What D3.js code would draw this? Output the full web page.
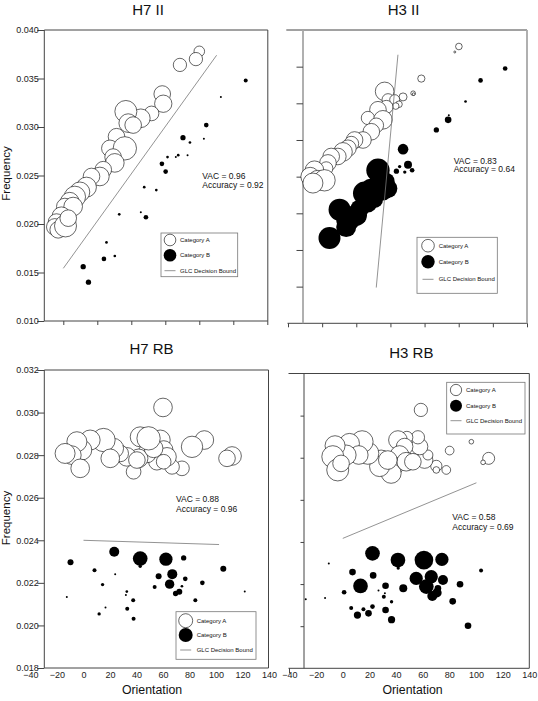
<!DOCTYPE html>
<html><head><meta charset="utf-8">
<script src="https://cdn.jsdelivr.net/npm/d3@7"></script>
<style>
html,body{margin:0;padding:0;background:#fff;}
svg{display:block;font-family:"Liberation Sans",Arial,Helvetica,sans-serif;}
</style></head><body>
<svg id="chart" width="538" height="701"></svg>
<script>
// ---- DATA: [orientation, frequency, size] ----
const h7iiA = [[80.0,0.0378,28],[78.0,0.0370,44],[68.6,0.0364,44],[58.2,0.0334,69],[58.8,0.0324,75],[51.9,0.0314,54],[45.6,0.0309,87],[36.8,0.0316,121],[38.2,0.0304,87],[41.1,0.0302,69],[31.3,0.0290,69],[27.4,0.0278,69],[36.2,0.0278,136],[29.3,0.0269,69],[30.3,0.0263,87],[23.5,0.0256,69],[21.5,0.0249,87],[16.6,0.0249,69],[13.6,0.0238,100],[9.7,0.0233,100],[6.8,0.0228,114],[3.8,0.0223,87],[0.9,0.0218,69],[5.8,0.0218,87],[-1.1,0.0208,87],[-4.0,0.0202,69],[-5.0,0.0197,69],[-3.0,0.0194,69],[1.3,0.0198,121],[2.9,0.0206,69]];
const h7iiB = [[107.3,0.0348,4],[92.7,0.0331,1],[84.1,0.0302,5.4],[70.4,0.0289,7],[74.5,0.0284,1.8],[82.7,0.0288,1],[61.3,0.0269,1.8],[66.2,0.0269,1],[67.6,0.0271,1.8],[73.1,0.0271,1],[58.0,0.0262,5.4],[60.2,0.0254,5.4],[47.6,0.0238,1.8],[54.7,0.0235,1.8],[32.9,0.0210,1.8],[45.6,0.0212,1],[48.6,0.0207,5.4],[25.4,0.0181,1.8],[23.9,0.0164,5.4],[30.3,0.0167,1.8],[11.7,0.0156,7],[14.8,0.0140,7]];
const h7iiBound = [[0,0.01543],[90.2,0.0374]];
const h7iiStats = ["VAC = 0.96","Accuracy = 0.92"];

const h3iiA = [[80.1,0.0382,11],[77.7,0.0376,1],[58.1,0.0347,13],[53.3,0.0331,5.4],[53.6,0.0330,1.8],[36.6,0.0333,87],[47.4,0.0327,16],[38.6,0.0324,36],[42.5,0.0324,25],[45.0,0.0319,11],[43.1,0.0317,11],[37.6,0.0316,44],[32.7,0.0313,69],[26.8,0.0304,44],[35.6,0.0302,87],[31.7,0.0296,54],[28.8,0.0289,69],[23.9,0.0280,69],[19.0,0.0280,69],[17.1,0.0276,54],[15.1,0.0271,69],[12.2,0.0267,87],[9.2,0.0262,69],[5.3,0.0262,69],[3.4,0.0255,69],[2.4,0.0249,44],[-4.5,0.0247,87],[-7.0,0.0240,87],[-2.5,0.0236,100],[1.4,0.0236,114],[-5.4,0.0233,100]];
const h3iiB = [[107.2,0.0358,5.4],[92.8,0.0345,5.4],[84.0,0.0322,1.8],[73.8,0.0302,11],[74.2,0.0307,1],[66.9,0.0291,7],[47.4,0.0270,28],[50.3,0.0253,16],[52.7,0.0247,5.4],[48.4,0.0245,2.8],[45.4,0.0251,2.8],[43.5,0.0246,7],[32.7,0.0247,136],[37.6,0.0235,69],[38.6,0.0227,87],[35.6,0.0225,100],[28.8,0.0225,136],[24.9,0.0222,136],[30.8,0.0215,69],[26.8,0.0211,87],[22.0,0.0205,87],[20.0,0.0198,114],[15.1,0.0193,136],[10.2,0.0204,121],[14.1,0.0185,100],[4.3,0.0173,121]];
const h3iiBound = [[44.4,0.0373],[31.7,0.0119]];
const h3iiStats = ["VAC = 0.83","Accuracy = 0.64"];

const h7rbA = [[60.0,0.03024,87],[91.2,0.02871,87],[112.1,0.02796,87],[108.3,0.02785,69],[81.9,0.02839,114],[74.3,0.02738,54],[66.8,0.02745,54],[37.8,0.02722,54],[42.8,0.02886,100],[57.9,0.02871,100],[60.5,0.02824,87],[63.0,0.02792,87],[55.4,0.02769,69],[47.9,0.02808,87],[41.6,0.02785,87],[32.7,0.02792,87],[27.7,0.02808,69],[22.7,0.02832,100],[15.1,0.02871,136],[5.0,0.02871,100],[-1.3,0.02824,100],[-5.0,0.02863,100],[-8.8,0.02800,87],[-13.9,0.02808,100],[-2.5,0.02738,87],[60.5,0.02769,54],[52.9,0.02832,87],[40.3,0.02777,69],[20.2,0.02785,87],[49.1,0.02879,136]];
const h7rbB = [[23.2,0.02346,25],[42.8,0.02314,54],[42.8,0.02278,2.8],[62.2,0.02311,44],[75.6,0.02317,7],[-9.8,0.02297,9],[8.3,0.02259,4],[23.9,0.02241,1],[67.0,0.02241,25],[56.7,0.02231,9],[65.0,0.02194,22],[76.8,0.02219,5.4],[89.7,0.02200,5.4],[105.5,0.02266,9],[53.7,0.02181,4],[74.3,0.02184,1.8],[14.4,0.02192,2.8],[32.7,0.02159,1.8],[32.0,0.02143,1],[37.5,0.02118,4],[16.6,0.02084,1],[33.0,0.02078,4],[11.8,0.02054,2.8],[37.8,0.02031,4],[69.5,0.02150,7],[72.3,0.02158,9],[84.4,0.02118,4],[-12.6,0.02134,1],[121.7,0.02159,1]];
const h7rbBound = [[0,0.0240],[102.3,0.0238]];
const h7rbStats = ["VAC = 0.88","Accuracy = 0.96"];

const h3rbA = [[58.6,0.03027,44],[96.5,0.02876,5.4],[80.2,0.02834,19],[109.5,0.02797,36],[105.3,0.02778,5.4],[70.2,0.02761,32],[77.7,0.02742,19],[70.2,0.02742,11],[61.4,0.02789,69],[63.9,0.02813,25],[57.6,0.02853,69],[56.4,0.02897,44],[48.1,0.02897,36],[41.4,0.02884,87],[46.4,0.02853,69],[42.6,0.02813,87],[37.6,0.02758,100],[36.3,0.02726,100],[47.6,0.02781,87],[52.6,0.02781,69],[28.8,0.02789,100],[27.6,0.02758,100],[18.8,0.02821,121],[14.5,0.02876,121],[5.0,0.02868,100],[12.0,0.02813,87],[2.5,0.02813,100],[-5.8,0.02857,100],[-7.5,0.02805,121],[-3.8,0.02742,121],[-1.3,0.02773,69],[33.8,0.02789,87]];
const h3rbB = [[22.3,0.02346,54],[41.4,0.02314,54],[41.6,0.02276,2.8],[60.9,0.02314,87],[74.4,0.02317,44],[-10.5,0.02298,1],[7.3,0.02257,11],[22.8,0.02241,11],[103.8,0.02265,4],[55.1,0.02227,44],[66.4,0.02235,44],[75.2,0.02219,25],[13.3,0.02191,54],[32.1,0.02192,11],[45.4,0.0218,16],[62.7,0.02188,54],[71.4,0.0218,11],[88.0,0.02199,11],[26.8,0.02169,1],[1.0,0.02161,5.4],[31.6,0.02156,1],[30.8,0.0214,4],[67.2,0.02143,25],[70.7,0.02159,22],[82.5,0.02118,11],[36.6,0.02116,2.8],[-27.8,0.02128,1],[-13.3,0.02134,1],[6.3,0.02086,4],[15.5,0.0208,4],[22.3,0.02093,5.4],[11.0,0.02053,13],[19.3,0.02061,11],[32.1,0.02077,11],[36.6,0.02031,13],[94.0,0.02002,11]];
const h3rbBound = [[0,0.02417],[100.3,0.02681]];
const h3rbStats = ["VAC = 0.58","Accuracy = 0.69"];

const freqTicksH7II = [0.010,0.015,0.020,0.025,0.030,0.035,0.040];
const freqTicksH3II = [0.012,0.016,0.020,0.024,0.028,0.032,0.036];
const freqTicksRB = [0.018,0.020,0.022,0.024,0.026,0.028,0.030,0.032];
const orientTicksII = [0,20,40,60,80,100,120];
const orientTicksH3II = [-20,0,20,40,60,80,100,120];
const orientTicksRB = [-40,-20,0,20,40,60,80,100,120,140];
const legendLabels = ["Category A","Category B","GLC Decision Bound"];

// ---- DRAWING ----
const svg = d3.select("#chart");
const rScale = d3.scaleSqrt().domain([0,144]).range([0,12]);
const fmt = d3.format(".3f");
const axisColor = "#444";

function hline(g,x0,x1,y,c,w){g.append("line").attr("x1",x0).attr("x2",x1).attr("y1",y).attr("y2",y).attr("stroke",c||axisColor).attr("stroke-width",w||1);}
function vline(g,x,y0,y1,c,w){g.append("line").attr("x1",x).attr("x2",x).attr("y1",y0).attr("y2",y1).attr("stroke",c||axisColor).attr("stroke-width",w||1);}

function drawPanel(o){
  const g = svg.append("g");
  const x = d3.scaleLinear().domain(o.xDomain).range(o.xRange);
  const y = d3.scaleLinear().domain(o.yDomain).range(o.yRange);
  const yb = o.yRange[0], yt = o.yRange[1];
  const right = o.right;
  // frame
  hline(g,o.topX0,right,yt);
  hline(g,o.botX0,right,yb);
  vline(g,o.left,yt,yb,o.leftColor,o.leftWidth);
  vline(g,right,yt,yb,o.rightColor,o.rightWidth);

  // y axis
  const ya = d3.axisLeft(y).tickValues(o.yTicks).tickSize(o.yTickSize)
     .tickPadding(o.yLabels ? -1.5 : 2).tickFormat(o.yLabels ? fmt : "");
  const yg = g.append("g").attr("transform",`translate(${o.left},0)`).call(ya);
  yg.select(".domain").remove();
  yg.selectAll("line").attr("stroke",axisColor);
  yg.selectAll("text").attr("font-size",9).attr("fill","#222")
     .attr("font-family","'Liberation Sans',Arial,sans-serif");

  // x axis
  const xa = d3.axisBottom(x).tickValues(o.xTicks).tickSize(o.xTickSize)
     .tickPadding(o.xLabels ? 3.8 : 2).tickFormat(o.xLabels ? d3.format("d") : "");
  const xg = g.append("g").attr("transform",`translate(0,${yb})`).call(xa);
  xg.select(".domain").remove();
  xg.selectAll("line").attr("stroke",axisColor);
  xg.selectAll("text").attr("font-size",9).attr("fill","#222")
     .attr("font-family","'Liberation Sans',Arial,sans-serif");
  if (o.extraTick !== undefined) vline(g,x(o.extraTick),yb,yb+5);

  // points
  g.append("g").selectAll("circle").data(o.A).join("circle")
    .attr("cx",d=>x(d[0])).attr("cy",d=>y(d[1])).attr("r",d=>rScale(d[2]))
    .attr("fill","#fff").attr("stroke","#000").attr("stroke-width",0.6);
  g.append("g").selectAll("circle").data(o.B).join("circle")
    .attr("cx",d=>x(d[0])).attr("cy",d=>y(d[1])).attr("r",d=>rScale(d[2]))
    .attr("fill","#000");
  // decision bound
  g.append("path").datum(o.bound)
    .attr("d",d3.line().x(d=>x(d[0])).y(d=>y(d[1])))
    .attr("stroke","#777").attr("stroke-width",0.8).attr("fill","none");

  // stats
  o.stats.forEach((s,i)=>{
    g.append("text").attr("x",o.statsX).attr("y",o.statsY + i*o.statsDy)
      .attr("font-size",8.5).attr("fill","#111").text(s);
  });

  // legend
  const L = o.legend;
  g.append("rect").attr("x",L.x).attr("y",L.y).attr("width",L.w).attr("height",L.h)
    .attr("fill","#fff").attr("stroke","#777").attr("stroke-width",0.8);
  g.append("circle").attr("cx",L.cx).attr("cy",L.rows[0]).attr("r",rScale(L.sizes[0]))
    .attr("fill","#fff").attr("stroke","#000").attr("stroke-width",0.6);
  g.append("circle").attr("cx",L.cx).attr("cy",L.rows[1]).attr("r",rScale(L.sizes[1]))
    .attr("fill","#000");
  g.append("line").attr("x1",L.cx-5.5).attr("x2",L.cx+5.5).attr("y1",L.rows[2]).attr("y2",L.rows[2])
    .attr("stroke","#777").attr("stroke-width",0.8);
  legendLabels.forEach((t,i)=>{
    g.append("text").attr("x",L.tx).attr("y",L.rows[i]+2.1).attr("font-size",6)
      .attr("fill","#111").text(t);
  });

  // title
  g.append("text").attr("x",o.titleX).attr("y",o.titleY).attr("text-anchor","middle")
    .attr("font-size",15).attr("fill","#111").text(o.title);
  if (o.yLabel) {
    g.append("text").attr("transform",`translate(9.5,${o.yLabel})rotate(-90)`)
      .attr("text-anchor","middle").attr("font-size",11.5).attr("fill","#111").text("Frequency");
  }
  if (o.xLabel) {
    g.append("text").attr("x",o.xLabel).attr("y",694).attr("text-anchor","middle")
      .attr("font-size",12.3).attr("fill","#111").text("Orientation");
  }
}

drawPanel({title:"H7 II", titleX:148, titleY:15, A:h7iiA, B:h7iiB, bound:h7iiBound, stats:h7iiStats,
  xDomain:[-20,120], xRange:[29.3,267.3], yDomain:[0.010,0.040], yRange:[321,30],
  left:44.3, right:267.8, topX0:44.3, botX0:44.3,
  yTicks:freqTicksH7II, yTickSize:7, yLabels:true,
  xTicks:orientTicksII, xTickSize:4, xLabels:false,
  statsX:202.3, statsY:178.8, statsDy:9.3,
  legend:{x:161,y:233,w:76.7,h:43.7,cx:170,tx:180,rows:[240,255.3,270.7],sizes:[34,40]},
  yLabel:173.5});

drawPanel({title:"H3 II", titleX:403.5, titleY:15, A:h3iiA, B:h3iiB, bound:h3iiBound, stats:h3iiStats,
  xDomain:[-20,120], xRange:[288,527], yDomain:[0.008,0.040], yRange:[323.3,30],
  left:303, right:527, topX0:286.3, botX0:287.5, leftColor:"#a8a8a8", leftWidth:1.8, rightColor:"#a8a8a8", rightWidth:1.8,
  yTicks:freqTicksH3II, yTickSize:6.5, yLabels:false,
  xTicks:orientTicksH3II, xTickSize:4, xLabels:false,
  statsX:453.7, statsY:163.7, statsDy:8.6,
  legend:{x:417,y:237.3,w:80.3,h:56,cx:428,tx:438.7,rows:[245.7,261.7,279.3],sizes:[40,45]}});

drawPanel({title:"H7 RB", titleX:151.5, titleY:354, A:h7rbA, B:h7rbB, bound:h7rbBound, stats:h7rbStats,
  xDomain:[-40,140], xRange:[30.5,269], yDomain:[0.018,0.032], yRange:[668,370],
  left:44.3, right:268.5, topX0:44.3, botX0:44.3,
  yTicks:freqTicksRB, yTickSize:7, yLabels:true,
  xTicks:orientTicksRB, xTickSize:0, xLabels:true,
  statsX:176, statsY:502.3, statsDy:9.7,
  legend:{x:176,y:611.7,w:80,h:47.6,cx:185.7,tx:196.7,rows:[620.7,635,650],sizes:[49,49]},
  yLabel:518, xLabel:152});

drawPanel({title:"H3 RB", titleX:411.3, titleY:358, A:h3rbA, B:h3rbB, bound:h3rbBound, stats:h3rbStats,
  xDomain:[-40,140], xRange:[289.5,529.3], yDomain:[0.018,0.032], yRange:[668.3,373.5],
  left:304, right:529.3, topX0:288.5, botX0:288.5,
  yTicks:[0.020,0.022,0.024,0.026,0.028,0.030], yTickSize:3.5, yLabels:false,
  xTicks:orientTicksRB, xTickSize:0, xLabels:true, extraTick:-40,
  statsX:452.3, statsY:519.7, statsDy:10,
  legend:{x:446.7,y:382.3,w:78.3,h:51.7,cx:456,tx:466,rows:[390,405.7,420.7],sizes:[32,36]},
  xLabel:412.5});
</script>
</body></html>
